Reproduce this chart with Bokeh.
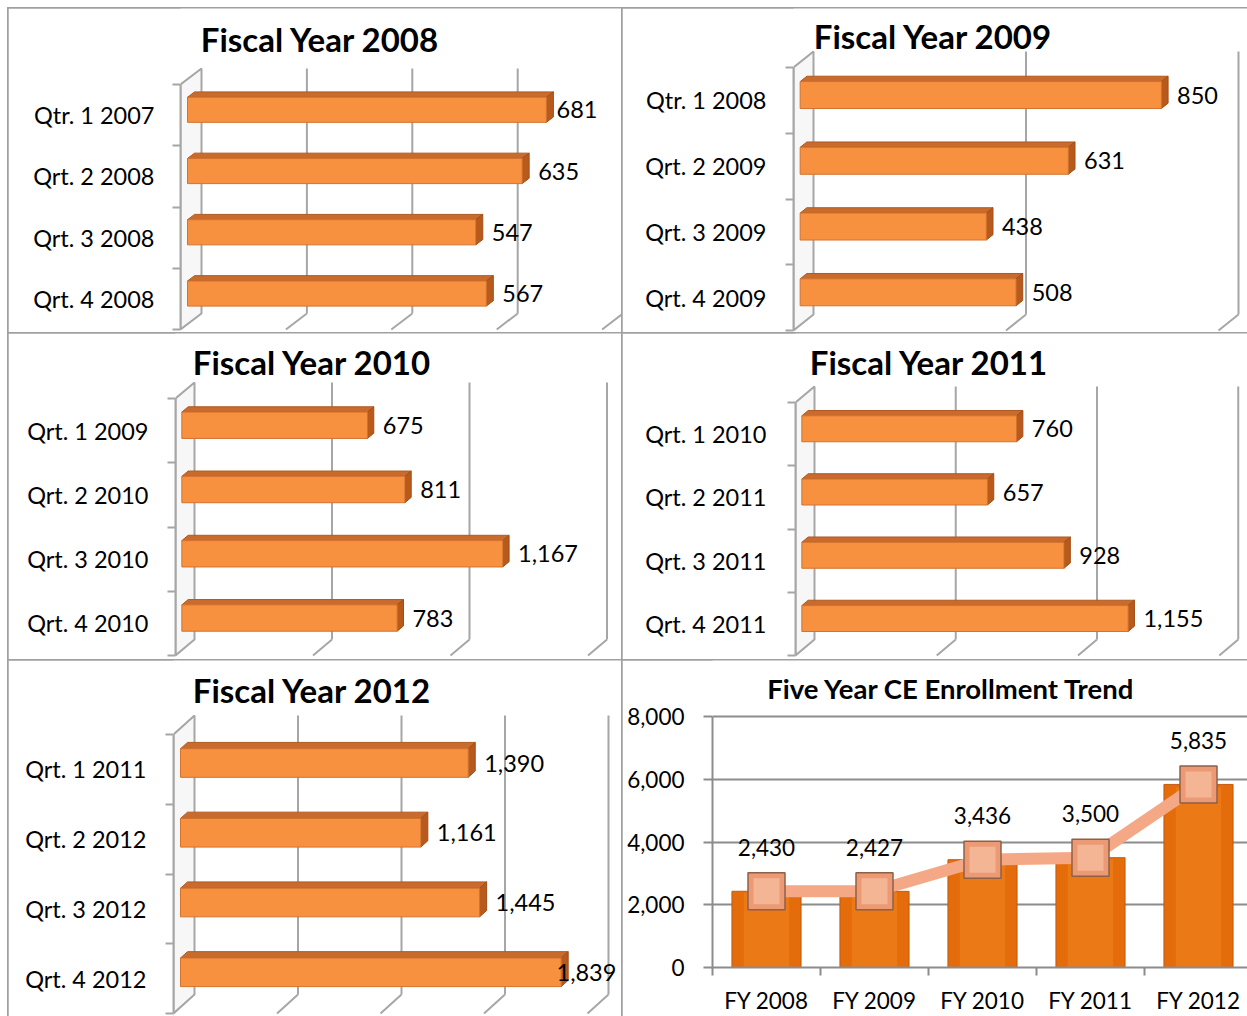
from bokeh.plotting import figure
from bokeh.layouts import row, column
from bokeh.models import Range1d, FixedTicker, LinearAxis, NumeralTickFormatter, Grid
from bokeh.core.properties import value
from bokeh.embed import file_html
from bokeh.resources import INLINE

FONT = "Lato"

# ---------------- data ----------------
fy2008_cats = ["Qtr. 1 2007", "Qrt. 2 2008", "Qrt. 3 2008", "Qrt. 4 2008"]
fy2008_vals = [681, 635, 547, 567]
fy2009_cats = ["Qtr. 1 2008", "Qrt. 2 2009", "Qrt. 3 2009", "Qrt. 4 2009"]
fy2009_vals = [850, 631, 438, 508]
fy2010_cats = ["Qrt. 1 2009", "Qrt. 2 2010", "Qrt. 3 2010", "Qrt. 4 2010"]
fy2010_vals = [675, 811, 1167, 783]
fy2011_cats = ["Qrt. 1 2010", "Qrt. 2 2011", "Qrt. 3 2011", "Qrt. 4 2011"]
fy2011_vals = [760, 657, 928, 1155]
fy2012_cats = ["Qrt. 1 2011", "Qrt. 2 2012", "Qrt. 3 2012", "Qrt. 4 2012"]
fy2012_vals = [1390, 1161, 1445, 1839]
trend_cats = ["FY 2008", "FY 2009", "FY 2010", "FY 2011", "FY 2012"]
trend_vals = [2430, 2427, 3436, 3500, 5835]
trend_ticks = [0, 2000, 4000, 6000, 8000]

WALL_GRAY = "#a6a6a6"
BORDER_STYLE = {"outline": "2px solid #a0a0a0", "outline-offset": "-1px"}


def bar_panel(title, cats, vals, W, H, wall_x, wall_top, slot, k, bdx, bdy,
              vmax, step, title_xy, standoff):
    n = len(cats)
    frame_w = W - wall_x
    x_end = frame_w / k
    y_top = -wall_top / slot
    y_bot = y_top + H / slot
    p = figure(width=W, height=H, x_range=Range1d(0, x_end),
               y_range=Range1d(y_bot, y_top), output_backend="svg",
               toolbar_location=None, x_axis_location=None, y_axis_location=None,
               min_border_left=wall_x, min_border_right=0, min_border_top=0,
               min_border_bottom=0, outline_line_color=None,
               background_fill_color="white", border_fill_color="white",
               styles=BORDER_STYLE)
    p.grid.visible = False
    BX = bdx / k
    BY = bdy / slot
    # left wall
    p.patch([0, BX, BX, 0], [0, BY, n + BY, n], fill_color="#f7f7f7",
            line_color=WALL_GRAY, line_width=2)
    # back wall gridlines + floor lines
    gx = list(range(step, vmax + 1, step))
    p.segment(x0=[v + BX for v in gx], y0=[BY] * len(gx),
              x1=[v + BX for v in gx], y1=[n + BY] * len(gx),
              line_color=WALL_GRAY, line_width=2)
    p.segment(x0=[v + BX for v in gx], y0=[n + BY] * len(gx),
              x1=gx, y1=[n] * len(gx), line_color=WALL_GRAY, line_width=2)
    # bars (sitting between 1/3 and 2/3 of the depth)
    x0 = BX / 3
    dX = BX / 3
    dY = BY / 3
    t = 0.41
    centers = [i + 0.5 + dY for i in range(n)]
    tops = [c - t / 2 for c in centers]
    bots = [c + t / 2 for c in centers]
    p.patches(xs=[[x0, x0 + v, x0 + v + dX, x0 + dX] for v in vals],
              ys=[[a, a, a + dY, a + dY] for a in tops],
              fill_color="#c96b2c", line_color="#b05a20", line_width=1)
    p.patches(xs=[[x0 + v, x0 + v + dX, x0 + v + dX, x0 + v] for v in vals],
              ys=[[a, a + dY, b + dY, b] for a, b in zip(tops, bots)],
              fill_color="#b85a1c", line_color="#a04e18", line_width=1)
    p.quad(left=[x0] * n, right=[x0 + v for v in vals], top=tops, bottom=bots,
           fill_color="#f7913f", line_color="#d27330", line_width=1)
    # value labels
    labels = [f"{v:,}" for v in vals]
    lx = [min(x0 + v + dX + 9 / k, x_end - 66 / k) for v in vals]
    p.text(x=lx, y=centers, text=labels, text_font=value(FONT),
           text_font_size="23.5px", text_align="left", text_baseline="middle",
           text_color="black")
    # title
    p.text(x=[(title_xy[0] - wall_x) / k], y=[y_top + title_xy[1] / slot],
           text=[title], text_font=value(FONT), text_font_style="bold",
           text_font_size="33px", text_align="center", text_baseline="middle",
           text_color="black")
    # category axis
    ax = LinearAxis(
        ticker=FixedTicker(ticks=[i + 0.5 for i in range(n)],
                           minor_ticks=list(range(n + 1))),
        major_label_overrides={i + 0.5: c for i, c in enumerate(cats)},
        bounds=(0, n), axis_line_color=WALL_GRAY, axis_line_width=2,
        major_tick_line_color=None, major_tick_out=0, major_tick_in=0,
        minor_tick_out=8, minor_tick_in=0, minor_tick_line_color=WALL_GRAY,
        minor_tick_line_width=2, major_label_standoff=standoff,
        major_label_text_font=FONT, major_label_text_font_size="23.5px",
        major_label_text_color="black")
    p.add_layout(ax, "left")
    return p


p1 = bar_panel("Fiscal Year 2008", fy2008_cats, fy2008_vals, 614, 325, 172, 76,
               61.25, 0.527, 21, -16, 800, 200, (312, 30), 18)
p2 = bar_panel("Fiscal Year 2009", fy2009_cats, fy2009_vals, 625, 325, 171, 59,
               65.75, 0.425, 20, -16, 1000, 500, (311, 27), 19)
p3 = bar_panel("Fiscal Year 2010", fy2010_cats, fy2010_vals, 614, 327, 167, 65,
               64.25, 0.275, 19, -16, 1500, 500, (304, 28), 19)
p4 = bar_panel("Fiscal Year 2011", fy2011_cats, fy2011_vals, 625, 327, 173, 69,
               63.25, 0.2825, 19, -16, 1500, 500, (307, 28), 21)
p5 = bar_panel("Fiscal Year 2012", fy2012_cats, fy2012_vals, 614, 356, 165, 74,
               69.75, 0.207, 21, -19, 2000, 500, (304, 29), 19)

# ---------------- trend chart ----------------
W6, H6 = 625, 356
left6, bottom6 = 90, 49
slot6 = 108.0
frame_h6 = H6 - bottom6
py_per = (frame_h6 - 56) / trend_ticks[-1]
y_end6 = frame_h6 / py_per
p6 = figure(width=W6, height=H6, x_range=Range1d(0, (W6 - left6) / slot6),
            y_range=Range1d(0, y_end6), output_backend="svg",
            toolbar_location=None, x_axis_location=None, y_axis_location=None,
            min_border_left=left6, min_border_bottom=bottom6, min_border_top=0,
            min_border_right=0, outline_line_color=None, styles=BORDER_STYLE)
p6.grid.visible = False
nc = len(trend_cats)
xc = [i + 0.5 for i in range(nc)]
yax = LinearAxis(ticker=FixedTicker(ticks=trend_ticks),
                 formatter=NumeralTickFormatter(format="0,0"),
                 bounds=(trend_ticks[0], trend_ticks[-1]),
                 axis_line_color="#8c8c8c", axis_line_width=2,
                 major_tick_out=9, major_tick_in=0, major_tick_line_color="#8c8c8c",
                 major_tick_line_width=2, minor_tick_out=0, minor_tick_in=0,
                 major_label_standoff=19, major_label_text_font=FONT,
                 major_label_text_font_size="22.5px", major_label_text_color="black")
p6.add_layout(yax, "left")
xax = LinearAxis(ticker=FixedTicker(ticks=xc, minor_ticks=list(range(nc + 1))),
                 major_label_overrides={c: s for c, s in zip(xc, trend_cats)},
                 axis_line_color="#8c8c8c", axis_line_width=2,
                 major_tick_out=0, major_tick_in=0, major_tick_line_color=None,
                 minor_tick_out=8, minor_tick_in=0, minor_tick_line_color="#8c8c8c",
                 minor_tick_line_width=2, major_label_standoff=11,
                 major_label_text_font=FONT, major_label_text_font_size="22.5px",
                 major_label_text_color="black")
p6.add_layout(xax, "below")
p6.add_layout(Grid(dimension=1, ticker=yax.ticker, grid_line_color="#8c8c8c",
                   grid_line_width=2))
p6.vbar(x=xc, top=trend_vals, width=0.64, fill_color="#e46c0a",
        line_color="#c55a11", line_width=1)
p6.vbar(x=xc, top=[v * 0.985 for v in trend_vals], width=0.42, fill_color="#f0821e",
        line_color=None, fill_alpha=0.6)
p6.line(x=xc, y=trend_vals, line_color="#f4a885", line_width=12)
p6.scatter(x=xc, y=trend_vals, marker="square", size=37, fill_color="#eb9a74",
           line_color="#8f5f48", line_width=1.5)
p6.scatter(x=xc, y=trend_vals, marker="square", size=26, fill_color="#f4b594",
           line_color=None)
p6.text(x=xc, y=trend_vals, text=[f"{v:,}" for v in trend_vals], y_offset=-44,
        text_font=value(FONT), text_font_size="22.5px", text_align="center",
        text_baseline="middle", text_color="black")
p6.text(x=[(329 - left6) / slot6], y=[y_end6 - 28 / py_per],
        text=["Five Year CE Enrollment Trend"], text_font=value(FONT),
        text_font_style="bold", text_font_size="27.5px", text_align="center",
        text_baseline="middle", text_color="black")

layout = column(row(column(p1), column(p2)), row(column(p3), column(p4)),
                row(column(p5), column(p6)), margin=(8, 0, 0, 8))
open("out.html", "w").write(file_html(layout, INLINE))
